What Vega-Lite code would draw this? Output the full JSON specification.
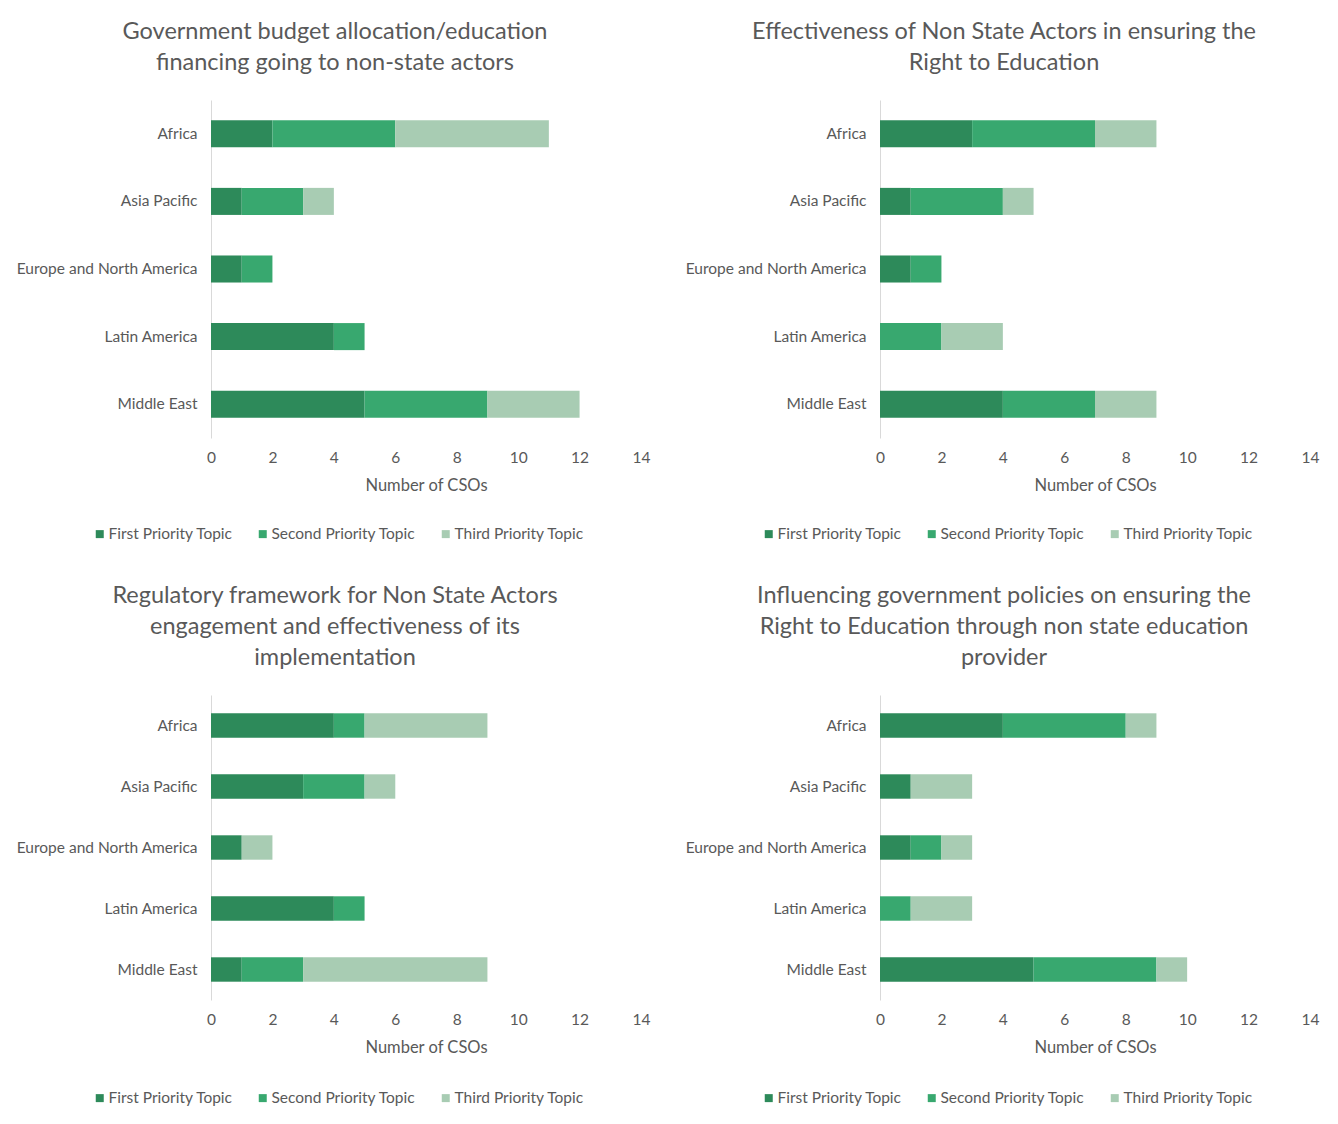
{
  "$schema": "https://vega.github.io/schema/vega-lite/v6.json",
  "padding": {"left": 12, "top": 19, "right": 5, "bottom": 5},
  "background": "white",
  "spacing": 40,
  "datasets": {
    "d": [
      {"panel": "A", "region": "Africa", "topic": "First Priority Topic", "n": 2},
      {"panel": "A", "region": "Africa", "topic": "Second Priority Topic", "n": 4},
      {"panel": "A", "region": "Africa", "topic": "Third Priority Topic", "n": 5},
      {"panel": "A", "region": "Asia Pacific", "topic": "First Priority Topic", "n": 1},
      {"panel": "A", "region": "Asia Pacific", "topic": "Second Priority Topic", "n": 2},
      {"panel": "A", "region": "Asia Pacific", "topic": "Third Priority Topic", "n": 1},
      {"panel": "A", "region": "Europe and North America", "topic": "First Priority Topic", "n": 1},
      {"panel": "A", "region": "Europe and North America", "topic": "Second Priority Topic", "n": 1},
      {"panel": "A", "region": "Latin America", "topic": "First Priority Topic", "n": 4},
      {"panel": "A", "region": "Latin America", "topic": "Second Priority Topic", "n": 1},
      {"panel": "A", "region": "Middle East", "topic": "First Priority Topic", "n": 5},
      {"panel": "A", "region": "Middle East", "topic": "Second Priority Topic", "n": 4},
      {"panel": "A", "region": "Middle East", "topic": "Third Priority Topic", "n": 3},

      {"panel": "B", "region": "Africa", "topic": "First Priority Topic", "n": 3},
      {"panel": "B", "region": "Africa", "topic": "Second Priority Topic", "n": 4},
      {"panel": "B", "region": "Africa", "topic": "Third Priority Topic", "n": 2},
      {"panel": "B", "region": "Asia Pacific", "topic": "First Priority Topic", "n": 1},
      {"panel": "B", "region": "Asia Pacific", "topic": "Second Priority Topic", "n": 3},
      {"panel": "B", "region": "Asia Pacific", "topic": "Third Priority Topic", "n": 1},
      {"panel": "B", "region": "Europe and North America", "topic": "First Priority Topic", "n": 1},
      {"panel": "B", "region": "Europe and North America", "topic": "Second Priority Topic", "n": 1},
      {"panel": "B", "region": "Latin America", "topic": "Second Priority Topic", "n": 2},
      {"panel": "B", "region": "Latin America", "topic": "Third Priority Topic", "n": 2},
      {"panel": "B", "region": "Middle East", "topic": "First Priority Topic", "n": 4},
      {"panel": "B", "region": "Middle East", "topic": "Second Priority Topic", "n": 3},
      {"panel": "B", "region": "Middle East", "topic": "Third Priority Topic", "n": 2},

      {"panel": "C", "region": "Africa", "topic": "First Priority Topic", "n": 4},
      {"panel": "C", "region": "Africa", "topic": "Second Priority Topic", "n": 1},
      {"panel": "C", "region": "Africa", "topic": "Third Priority Topic", "n": 4},
      {"panel": "C", "region": "Asia Pacific", "topic": "First Priority Topic", "n": 3},
      {"panel": "C", "region": "Asia Pacific", "topic": "Second Priority Topic", "n": 2},
      {"panel": "C", "region": "Asia Pacific", "topic": "Third Priority Topic", "n": 1},
      {"panel": "C", "region": "Europe and North America", "topic": "First Priority Topic", "n": 1},
      {"panel": "C", "region": "Europe and North America", "topic": "Third Priority Topic", "n": 1},
      {"panel": "C", "region": "Latin America", "topic": "First Priority Topic", "n": 4},
      {"panel": "C", "region": "Latin America", "topic": "Second Priority Topic", "n": 1},
      {"panel": "C", "region": "Middle East", "topic": "First Priority Topic", "n": 1},
      {"panel": "C", "region": "Middle East", "topic": "Second Priority Topic", "n": 2},
      {"panel": "C", "region": "Middle East", "topic": "Third Priority Topic", "n": 6},

      {"panel": "D", "region": "Africa", "topic": "First Priority Topic", "n": 4},
      {"panel": "D", "region": "Africa", "topic": "Second Priority Topic", "n": 4},
      {"panel": "D", "region": "Africa", "topic": "Third Priority Topic", "n": 1},
      {"panel": "D", "region": "Asia Pacific", "topic": "First Priority Topic", "n": 1},
      {"panel": "D", "region": "Asia Pacific", "topic": "Third Priority Topic", "n": 2},
      {"panel": "D", "region": "Europe and North America", "topic": "First Priority Topic", "n": 1},
      {"panel": "D", "region": "Europe and North America", "topic": "Second Priority Topic", "n": 1},
      {"panel": "D", "region": "Europe and North America", "topic": "Third Priority Topic", "n": 1},
      {"panel": "D", "region": "Latin America", "topic": "Second Priority Topic", "n": 1},
      {"panel": "D", "region": "Latin America", "topic": "Third Priority Topic", "n": 2},
      {"panel": "D", "region": "Middle East", "topic": "First Priority Topic", "n": 5},
      {"panel": "D", "region": "Middle East", "topic": "Second Priority Topic", "n": 4},
      {"panel": "D", "region": "Middle East", "topic": "Third Priority Topic", "n": 1}
    ]
  },
  "config": {
    "font": "Lato",
    "view": {"stroke": null},
    "axis": {
      "labelColor": "#595959",
      "titleColor": "#595959",
      "labelFontSize": 15.5,
      "titleFontSize": 16.5,
      "titleFontWeight": "normal",
      "ticks": false,
      "grid": false,
      "domainColor": "#d9d9d9"
    },
    "axisY": {"title": null, "labelPadding": 14, "labelLimit": 240, "minExtent": 199, "maxExtent": 199},
    "axisX": {"domain": false, "labelPadding": 12.5, "labelFlush": false, "titlePadding": 11},
    "legend": {
      "orient": "none",
      "direction": "horizontal",
      "labelFontSize": 15.5,
      "labelColor": "#595959",
      "symbolType": "square",
      "symbolSize": 64,
      "symbolStrokeWidth": 0,
      "columnPadding": 22,
      "labelOffset": 1
    },
    "title": {
      "fontSize": 23.5,
      "fontWeight": "normal",
      "color": "#595959",
      "anchor": "middle",
      "frame": "bounds",
      "lineHeight": 31,
      "offset": 26,
      "dx": 4
    },
    "concat": {"spacing": 35}
  },
  "resolve": {"scale": {"color": "independent"}, "legend": {"color": "independent"}},
  "vconcat": [
    {
      "resolve": {"scale": {"color": "independent"}, "legend": {"color": "independent"}},
      "spacing": 31,
      "hconcat": [
        {
          "title": {"text": ["Government budget allocation/education", "financing going to non-state actors"]},
          "data": {"name": "d"},
          "transform": [{"filter": "datum.panel == 'A'"}],
          "width": 430, "height": 338,
          "mark": "bar",
          "encoding": {
            "y": {"field": "region", "type": "nominal", "sort": ["Africa", "Asia Pacific", "Europe and North America", "Latin America", "Middle East"], "scale": {"paddingInner": 0.6, "paddingOuter": 0.3}},
            "x": {"field": "n", "type": "quantitative", "aggregate": "sum", "stack": "zero", "title": "Number of CSOs", "scale": {"domain": [0, 14], "nice": false}, "axis": {"values": [0, 2, 4, 6, 8, 10, 12, 14]}},
            "color": {"field": "topic", "type": "nominal", "title": null, "legend": {"legendX": -119, "legendY": 426}, "scale": {"domain": ["First Priority Topic", "Second Priority Topic", "Third Priority Topic"], "range": ["#2D8A5A", "#38A86F", "#A8CCB3"]}}
          }
        },
        {
          "title": {"text": ["Effectiveness of Non State Actors in ensuring the", "Right to Education"]},
          "data": {"name": "d"},
          "transform": [{"filter": "datum.panel == 'B'"}],
          "width": 430, "height": 338,
          "mark": "bar",
          "encoding": {
            "y": {"field": "region", "type": "nominal", "sort": ["Africa", "Asia Pacific", "Europe and North America", "Latin America", "Middle East"], "scale": {"paddingInner": 0.6, "paddingOuter": 0.3}},
            "x": {"field": "n", "type": "quantitative", "aggregate": "sum", "stack": "zero", "title": "Number of CSOs", "scale": {"domain": [0, 14], "nice": false}, "axis": {"values": [0, 2, 4, 6, 8, 10, 12, 14]}},
            "color": {"field": "topic", "type": "nominal", "title": null, "legend": {"legendX": -119, "legendY": 426}, "scale": {"domain": ["First Priority Topic", "Second Priority Topic", "Third Priority Topic"], "range": ["#2D8A5A", "#38A86F", "#A8CCB3"]}}
          }
        }
      ]
    },
    {
      "resolve": {"scale": {"color": "independent"}, "legend": {"color": "independent"}},
      "spacing": 31,
      "hconcat": [
        {
          "title": {"text": ["Regulatory framework for Non State Actors", "engagement and effectiveness of its", "implementation"]},
          "data": {"name": "d"},
          "transform": [{"filter": "datum.panel == 'C'"}],
          "width": 430, "height": 305,
          "mark": "bar",
          "encoding": {
            "y": {"field": "region", "type": "nominal", "sort": ["Africa", "Asia Pacific", "Europe and North America", "Latin America", "Middle East"], "scale": {"paddingInner": 0.6, "paddingOuter": 0.3}},
            "x": {"field": "n", "type": "quantitative", "aggregate": "sum", "stack": "zero", "title": "Number of CSOs", "scale": {"domain": [0, 14], "nice": false}, "axis": {"values": [0, 2, 4, 6, 8, 10, 12, 14]}},
            "color": {"field": "topic", "type": "nominal", "title": null, "legend": {"legendX": -119, "legendY": 395}, "scale": {"domain": ["First Priority Topic", "Second Priority Topic", "Third Priority Topic"], "range": ["#2D8A5A", "#38A86F", "#A8CCB3"]}}
          }
        },
        {
          "title": {"text": ["Influencing government policies on ensuring the", "Right to Education through non state education", "provider"]},
          "data": {"name": "d"},
          "transform": [{"filter": "datum.panel == 'D'"}],
          "width": 430, "height": 305,
          "mark": "bar",
          "encoding": {
            "y": {"field": "region", "type": "nominal", "sort": ["Africa", "Asia Pacific", "Europe and North America", "Latin America", "Middle East"], "scale": {"paddingInner": 0.6, "paddingOuter": 0.3}},
            "x": {"field": "n", "type": "quantitative", "aggregate": "sum", "stack": "zero", "title": "Number of CSOs", "scale": {"domain": [0, 14], "nice": false}, "axis": {"values": [0, 2, 4, 6, 8, 10, 12, 14]}},
            "color": {"field": "topic", "type": "nominal", "title": null, "legend": {"legendX": -119, "legendY": 395}, "scale": {"domain": ["First Priority Topic", "Second Priority Topic", "Third Priority Topic"], "range": ["#2D8A5A", "#38A86F", "#A8CCB3"]}}
          }
        }
      ]
    }
  ]
}
